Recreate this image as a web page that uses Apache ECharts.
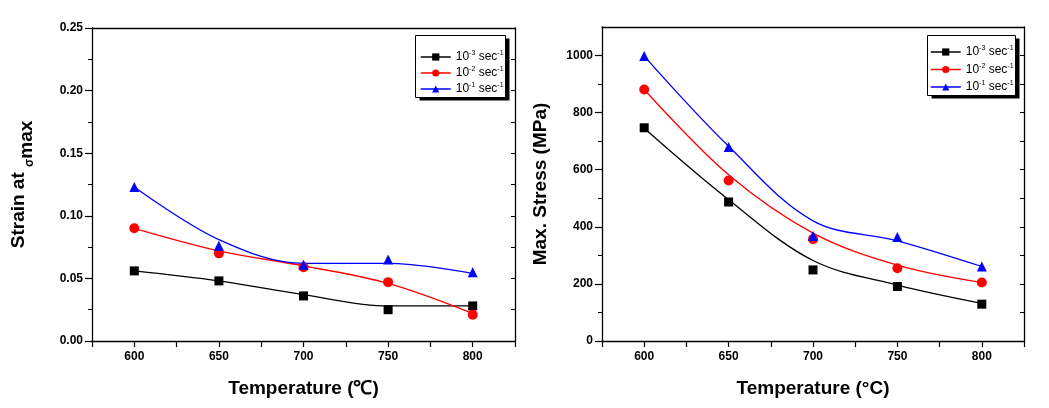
<!DOCTYPE html>
<html>
<head>
<meta charset="utf-8">
<script src="https://cdn.jsdelivr.net/npm/echarts@6/dist/echarts.min.js"></script>
<style>html,body{margin:0;padding:0;background:#fff}#c{width:1049px;height:408px}</style>
</head>
<body>
<div id="c"></div>
<script>
// ---- data ----
const temperatures = [600, 650, 700, 750, 800];
const rateNames = ['r3', 'r2', 'r1'];
const rateLabels = ['10{sup|-3} sec{sup|-1}', '10{sup|-2} sec{sup|-1}', '10{sup|-1} sec{sup|-1}'];
const rateColors = ['#000000', '#ff0000', '#0000ff'];
const rateSymbols = ['rect', 'circle', 'triangle'];
const rateSymbolSizes = [9, 10, 10];

// strain at sigma_max (measured points)
const strainR3 = [0.056, 0.048, 0.036, 0.025, 0.028];
const strainR2 = [0.090, 0.070, 0.059, 0.047, 0.021];
const strainR1 = [0.123, 0.076, 0.061, 0.065, 0.055];
// strain fitted curves (read at the same temperatures)
const strainFitR3 = [0.056, 0.048, 0.037, 0.028, 0.028];
const strainFitR2 = [0.090, 0.072, 0.060, 0.046, 0.022];
const strainFitR1 = [0.123, 0.081, 0.062, 0.062, 0.054];

// max stress (MPa) measured points
const stressR3 = [747, 487, 249, 191, 129];
const stressR2 = [881, 562, 357, 255, 205];
const stressR1 = [998, 680, 368, 364, 261];
// stress fitted curves
const stressFitR3 = [745, 495, 282, 196, 132];
const stressFitR2 = [881, 582, 378, 266, 205];
const stressFitR1 = [998, 682, 421, 351, 261];

const xTickLabels = ['600', '650', '700', '750', '800'];
const strainTicks = [0, 0.05, 0.10, 0.15, 0.20, 0.25];
const strainTickLabels = ['0.00', '0.05', '0.10', '0.15', '0.20', '0.25'];
const stressTicks = [0, 200, 400, 600, 800, 1000];
const stressTickLabels = ['0', '200', '400', '600', '800', '1000'];

// ---- chart ----
const FONT = '"Liberation Sans", Arial, sans-serif';
const chart = echarts.init(document.getElementById('c'));

function pairs(ys) { return temperatures.map((t, i) => [t, ys[i]]); }

const axisLine = { show: true, onZero: false, lineStyle: { color: '#000', width: 1.3 } };

function xBottom(gi, name) {
  return {
    type: 'value', gridIndex: gi, position: 'bottom', min: 575, max: 825, interval: 25,
    axisLine: axisLine, splitLine: { show: false },
    axisTick: { show: true, inside: false, length: 6, lineStyle: { color: '#000', width: 1.2 } },
    axisLabel: {
      color: '#000', fontFamily: FONT, fontWeight: 'bold', fontSize: 12, margin: 10,
      formatter: v => { const i = temperatures.indexOf(v); return i >= 0 ? xTickLabels[i] : ''; }
    },
    name: name, nameLocation: 'middle', nameGap: 38,
    nameTextStyle: { color: '#000', fontFamily: FONT, fontWeight: 'bold', fontSize: 19 }
  };
}
function xTop(gi) {
  return {
    type: 'value', gridIndex: gi, position: 'top', min: 575, max: 825, interval: 25,
    axisLine: axisLine, splitLine: { show: false }, axisTick: { show: false }, axisLabel: { show: false }
  };
}
function yLeft(gi, max, interval, ticks, labels, name, gap, rich) {
  return {
    type: 'value', gridIndex: gi, position: 'left', min: 0, max: max, interval: interval,
    axisLine: axisLine, splitLine: { show: false },
    axisTick: { show: true, inside: false, length: 7, customValues: ticks, lineStyle: { color: '#000', width: 1.2 } },
    minorTick: { show: true, splitNumber: 2, length: 4, lineStyle: { color: '#000', width: 1 } },
    minorSplitLine: { show: false },
    axisLabel: {
      color: '#000', fontFamily: FONT, fontWeight: 'bold', fontSize: 12, margin: 9,
      customValues: ticks,
      formatter: v => { let i = 0; for (let j = 0; j < ticks.length; j++) if (Math.abs(ticks[j] - v) < 1e-9) i = j; return labels[i]; }
    },
    name: name, nameLocation: 'middle', nameGap: gap,
    nameTextStyle: Object.assign({ color: '#000', fontFamily: FONT, fontWeight: 'bold', fontSize: 19 }, rich ? { rich: rich } : {})
  };
}
function yRight(gi, max, interval, ticks) {
  return {
    type: 'value', gridIndex: gi, position: 'right', min: 0, max: max, interval: interval,
    axisLine: axisLine, splitLine: { show: false },
    axisTick: { show: true, inside: true, length: 4, customValues: ticks, lineStyle: { color: '#000', width: 1 } },
    minorTick: { show: true, splitNumber: 2, length: 4, lineStyle: { color: '#000', width: 1 } },
    axisLabel: { show: false }
  };
}

const strainRich = {
  a: { fontFamily: FONT, fontWeight: 'bold', fontSize: 19, lineHeight: 20, verticalAlign: 'top', color: '#000' },
  s: { fontFamily: FONT, fontWeight: 'bold', fontSize: 12, lineHeight: 14, verticalAlign: 'bottom', color: '#000' },
  m: { fontFamily: FONT, fontWeight: 'bold', fontSize: 19, lineHeight: 27, verticalAlign: 'bottom', color: '#000' }
};

const markerSets = [
  [strainR3, strainR2, strainR1],
  [stressR3, stressR2, stressR1]
];
const fitSets = [
  [strainFitR3, strainFitR2, strainFitR1],
  [stressFitR3, stressFitR2, stressFitR1]
];

const series = [];
for (let g = 0; g < 2; g++) {
  for (let k = 0; k < 3; k++) {
    series.push({
      name: 'fit' + g + k, type: 'line', xAxisIndex: g * 2, yAxisIndex: g * 2,
      data: pairs(fitSets[g][k]), smooth: 0.35, showSymbol: false, symbol: 'none',
      lineStyle: { color: rateColors[k], width: 1.3 }, z: 2, silent: true
    });
    series.push({
      name: rateNames[k], type: 'line', xAxisIndex: g * 2, yAxisIndex: g * 2,
      data: pairs(markerSets[g][k]), symbol: rateSymbols[k], symbolSize: rateSymbolSizes[k],
      itemStyle: { color: rateColors[k] }, lineStyle: { color: rateColors[k], width: 1.5, opacity: 0 }, z: 3
    });
  }
}

function legend(left, top, gap) {
  return {
    data: rateNames, orient: 'vertical', left: left, top: top, z: 10,
    itemWidth: 30, itemHeight: 9, itemGap: gap, padding: 0,
    lineStyle: { opacity: 1, width: 1.5 },
    selectedMode: false,
    formatter: n => rateLabels[rateNames.indexOf(n)],
    textStyle: {
      fontFamily: FONT, fontSize: 12, color: '#000', lineHeight: 14,
      rich: {
        sup: { fontFamily: FONT, fontSize: 7, lineHeight: 14, verticalAlign: 'top', color: '#000' }
      }
    }
  };
}

// legend frames (box with offset shadow)
function frame(x, y, w, h) {
  return [
    { type: 'rect', z: 5, shape: { x: x + 4, y: y + 3, width: w, height: h }, style: { fill: '#000' }, silent: true },
    { type: 'rect', z: 6, shape: { x: x, y: y, width: w, height: h }, style: { fill: '#fff', stroke: '#000', lineWidth: 1 }, silent: true }
  ];
}

chart.setOption({
  animation: false,
  backgroundColor: '#fff',
  grid: [
    { left: 92, top: 28, width: 423, height: 313 },
    { left: 602, top: 27, width: 422, height: 314 }
  ],
  xAxis: [xBottom(0, 'Temperature (\u2103)'), xTop(0), xBottom(1, 'Temperature (\u00b0C)'), xTop(1)],
  yAxis: [
    yLeft(0, 0.25, 0.05, strainTicks, strainTickLabels, '{a|Strain at }{s|\u03c3}{m|max}', 56, strainRich),
    yRight(0, 0.25, 0.05, strainTicks),
    yLeft(1, 1100, 200, stressTicks, stressTickLabels, 'Max. Stress (MPa)', 52, null),
    yRight(1, 1100, 200, stressTicks)
  ],
  graphic: frame(415.5, 35.5, 90, 62).concat(frame(927.5, 35.5, 88, 60)),
  legend: [legend(420, 50, 2), legend(930, 45, 3.5)],
  series: series
});
</script>
</body>
</html>
